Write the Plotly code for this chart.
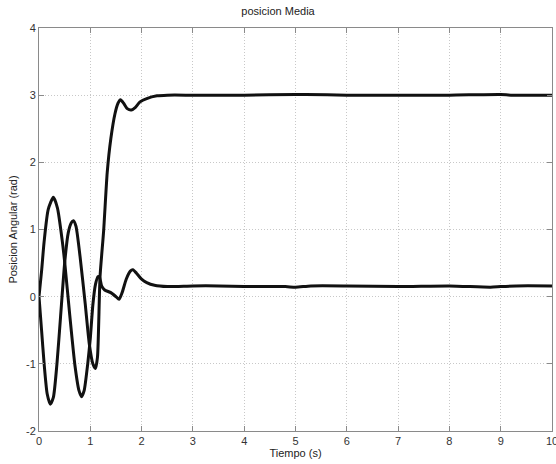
import plotly.graph_objects as go

# Trace 1: starts going up, settles near 0.15
t1 = [0, 0.05, 0.1, 0.18, 0.28, 0.36, 0.45, 0.5, 0.6, 0.7, 0.78, 0.83, 0.88, 0.95, 1.0,
      1.05, 1.1, 1.15, 1.18, 1.22, 1.28, 1.4, 1.5, 1.56, 1.62, 1.7, 1.78, 1.83, 1.9, 2.0,
      2.1, 2.25, 2.5, 3.0, 3.5, 4.0, 4.8, 5.0, 5.3, 6.0, 7.0, 8.0, 8.8, 9.0, 9.3, 10.0]
y1 = [0, 0.38, 0.82, 1.3, 1.48, 1.32, 0.85, 0.52, -0.28, -1.02, -1.4, -1.49, -1.4, -1.0, -0.62,
      -0.12, 0.18, 0.3, 0.29, 0.16, 0.1, 0.06, 0.0, -0.04, 0.06, 0.26, 0.38, 0.4, 0.35, 0.26,
      0.21, 0.17, 0.15, 0.16, 0.16, 0.15, 0.15, 0.14, 0.16, 0.16, 0.15, 0.16, 0.14, 0.15, 0.16, 0.16]

# Trace 2: starts going down, settles at 3
t2 = [0, 0.05, 0.1, 0.16, 0.22, 0.28, 0.35, 0.42, 0.5, 0.57, 0.63, 0.67, 0.72, 0.8, 0.9,
      0.98, 1.05, 1.1, 1.14, 1.19, 1.26, 1.33, 1.4, 1.48, 1.54, 1.59, 1.65, 1.72, 1.8, 1.88,
      1.97, 2.1, 2.3, 2.5, 3.0, 4.0, 5.0, 5.2, 6.0, 7.0, 8.0, 9.0, 9.2, 10.0]
y2 = [0, -0.5, -1.0, -1.45, -1.6, -1.5, -1.0, -0.3, 0.5, 0.95, 1.1, 1.13, 1.05, 0.6, -0.1,
      -0.7, -1.0, -1.07, -0.9, 0.3, 0.98, 1.85, 2.35, 2.72, 2.88, 2.93, 2.88, 2.8, 2.78, 2.82,
      2.9, 2.95, 2.99, 3.0, 3.0, 3.0, 3.01, 3.01, 3.0, 3.0, 3.0, 3.01, 3.0, 3.0]

x_ticks = [0, 1, 2, 3, 4, 5, 6, 7, 8, 9, 10]
x_tick_labels = ["0", "1", "2", "3", "4", "5", "6", "7", "8", "9", "10"]
y_ticks = [-2, -1, 0, 1, 2, 3, 4]
y_tick_labels = ["-2", "-1", "0", "1", "2", "3", "4"]

fig = go.Figure()
for t, y in [(t1, y1), (t2, y2)]:
    fig.add_trace(go.Scatter(x=t, y=y, mode="lines",
                             line=dict(color="#111111", width=3, shape="spline", smoothing=0.6),
                             showlegend=False))

axis_common = dict(
    showline=True, linecolor="#8a8a8a", linewidth=1, mirror="ticks",
    ticks="inside", ticklen=5, tickcolor="#8a8a8a",
    showgrid=True, gridcolor="#c8c8c8", griddash="1px,2px", gridwidth=1,
    zeroline=False, ticklabeloverflow="allow", automargin=False,
    tickfont=dict(family="Liberation Sans, Arial", size=11, color="#333333"),
)

fig.update_layout(
    width=556, height=464,
    margin=dict(l=39, r=4, t=28, b=33),
    paper_bgcolor="white", plot_bgcolor="white",
    title=dict(text="posicion Media", x=0.5, xanchor="center", y=0.985, yanchor="top",
               font=dict(family="Liberation Sans, Arial", size=11, color="#222222")),
    xaxis=dict(range=[0, 10], tickvals=x_ticks, ticktext=x_tick_labels,
               title=dict(text="Tiempo (s)", standoff=2,
                          font=dict(family="Liberation Sans, Arial", size=11, color="#222222")),
               **axis_common),
    yaxis=dict(range=[-2, 4], tickvals=y_ticks, ticktext=y_tick_labels,
               title=dict(text="Posicion Angular (rad)", standoff=6,
                          font=dict(family="Liberation Sans, Arial", size=11, color="#222222")),
               **axis_common),
)

fig.write_html("out.html")
